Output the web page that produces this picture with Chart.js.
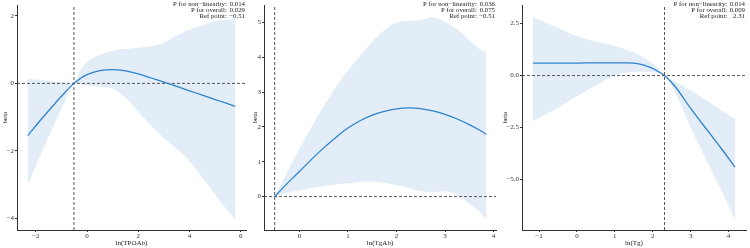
<!DOCTYPE html>
<html>
<head>
<meta charset="utf-8">
<script src="https://cdn.jsdelivr.net/npm/chart.js@4.4.0/dist/chart.umd.min.js"></script>
<style>
  body { margin: 0; background: #fff; }
  #wrap { position: relative; width: 750px; height: 248px; }
  .panel { position: absolute; top: 0; width: 250px; height: 248px; }
</style>
</head>
<body>
<div id="wrap">
  <div class="panel" style="left:0"><canvas id="c1" width="250" height="248"></canvas></div>
  <div class="panel" style="left:250px"><canvas id="c2" width="250" height="248"></canvas></div>
  <div class="panel" style="left:500px"><canvas id="c3" width="250" height="248"></canvas></div>
</div>
<script>
// panel 1: ln(TPOAb)
var x1   = [-2.31, -1.8, -1.3, -0.9, -0.51, -0.25, 0, 0.5, 1, 1.5, 2, 2.5, 3, 3.5, 4, 4.5, 5, 5.4, 5.78];
var est1 = [-1.55, -1.08, -0.64, -0.3, 0, 0.15, 0.26, 0.38, 0.41, 0.37, 0.28, 0.16, 0.04, -0.09, -0.22, -0.35, -0.48, -0.58, -0.68];
var up1  = [0.14, 0.1, 0.05, 0.03, 0, 0.4, 0.63, 0.85, 0.97, 1.02, 1.06, 1.1, 1.2, 1.42, 1.6, 1.72, 1.85, 1.88, 1.9];
var lo1  = [-3.0, -2.1, -1.25, -0.6, 0, -0.04, -0.06, -0.1, -0.15, -0.42, -0.85, -1.25, -1.62, -1.95, -2.3, -2.8, -3.3, -3.7, -4.06];
var xTicks1 = [-2, 0, 2, 4, 6];
var yTicks1 = [-4, -2, 0, 2];
var stats1 = [["P for non\u2212linearity:", "0.014"], ["P for overall:", "0.029"], ["Ref point:", "\u22120.51"]];

// panel 2: ln(TgAb)
var x2   = [-0.51, -0.25, 0, 0.25, 0.5, 0.75, 1, 1.25, 1.5, 1.75, 2, 2.25, 2.5, 2.75, 3, 3.25, 3.5, 3.7, 3.85];
var est2 = [0, 0.38, 0.72, 1.07, 1.4, 1.7, 1.97, 2.18, 2.34, 2.45, 2.52, 2.55, 2.53, 2.46, 2.36, 2.23, 2.07, 1.92, 1.79];
var up2  = [0, 0.7, 1.38, 2.0, 2.6, 3.15, 3.62, 4.05, 4.45, 4.78, 5.0, 5.05, 5.07, 5.15, 5.02, 4.8, 4.5, 4.25, 4.15];
var lo2  = [0, 0.1, 0.18, 0.25, 0.3, 0.35, 0.38, 0.42, 0.43, 0.4, 0.33, 0.25, 0.15, 0.13, 0.15, 0.05, -0.2, -0.42, -0.65];
var xTicks2 = [0, 1, 2, 3, 4];
var yTicks2 = [0, 1, 2, 3, 4, 5];
var stats2 = [["P for non\u2212linearity:", "0.036"], ["P for overall:", "0.075"], ["Ref point:", "\u22120.51"]];

// panel 3: ln(Tg)
var x3   = [-1.16, -0.5, 0, 0.5, 1, 1.3, 1.6, 1.9, 2.1, 2.31, 2.6, 3, 3.5, 3.8, 4.17];
var est3 = [0.6, 0.6, 0.6, 0.61, 0.61, 0.61, 0.57, 0.42, 0.24, 0, -0.55, -1.58, -2.77, -3.48, -4.4];
var up3  = [2.8, 2.3, 1.9, 1.62, 1.42, 1.24, 1.02, 0.7, 0.42, 0, -0.3, -0.72, -1.3, -1.65, -2.07];
var lo3  = [-2.2, -1.55, -1.0, -0.47, 0.02, 0.15, 0.18, 0.17, 0.13, 0, -0.85, -2.49, -4.36, -5.48, -6.92];
var xTicks3 = [-1, 0, 1, 2, 3, 4];
var yTicks3 = [-5, -2.5, 0, 2.5];
var stats3 = [["P for non\u2212linearity:", "0.014"], ["P for overall:", "0.009"], ["Ref point:", "2.31"]];

var SERIF = '"Liberation Serif", "DejaVu Serif", serif';
var LINE_COLOR = '#2f82cc';
var FILL_COLOR = '#e2edf8';
var DASH_COLOR = '#444444';
var FONT_SIZE = 7;

function pts(xs, ys) {
  return xs.map(function (x, i) { return { x: x, y: ys[i] }; });
}

function fmt(v, dec) {
  var s = Math.abs(v).toFixed(dec);
  return (v < 0 ? '\u2212' : '') + s;
}

// stats text in the top right corner
var statsPlugin = {
  id: 'stats',
  afterDraw: function (chart) {
    var lines = chart.options.plugins.stats.lines;
    var ctx = chart.ctx;
    var right = chart.chartArea.right - 1;
    ctx.save();
    ctx.font = '6.8px ' + SERIF;
    ctx.fillStyle = '#222';
    ctx.textBaseline = 'middle';
    ctx.textAlign = 'right';
    var vw = 0;
    lines.forEach(function (l) { vw = Math.max(vw, ctx.measureText(l[1]).width); });
    lines.forEach(function (l, i) {
      var y = 4 + i * 6.1;
      ctx.fillText(l[0], right - vw - 2.5, y);
      ctx.fillText(l[1], right, y);
    });
    ctx.restore();
  }
};

function makeChart(id, opt) {
  var ctx = document.getElementById(id).getContext('2d');
  var datasets = [
    {
      data: pts(opt.x, opt.est), borderColor: LINE_COLOR, borderWidth: 1.3,
      pointRadius: 0, fill: false, tension: 0.35, order: 0
    },
    {
      data: [{ x: opt.xMin, y: 0 }, { x: opt.xMax, y: 0 }], borderColor: DASH_COLOR,
      borderWidth: 0.9, borderDash: [3, 2], pointRadius: 0, fill: false, order: 1
    },
    {
      data: [{ x: opt.ref, y: opt.yMin }, { x: opt.ref, y: opt.yMax }], borderColor: DASH_COLOR,
      borderWidth: 0.9, borderDash: [3, 2], pointRadius: 0, fill: false, order: 1
    },
    {
      data: pts(opt.x, opt.up), borderWidth: 0, borderColor: 'rgba(0,0,0,0)',
      backgroundColor: FILL_COLOR, pointRadius: 0, fill: '+1',
      tension: 0.3, order: 3
    },
    {
      data: pts(opt.x, opt.lo), borderWidth: 0, borderColor: 'rgba(0,0,0,0)',
      pointRadius: 0, fill: false, tension: 0.3, order: 3
    }
  ];

  return new Chart(ctx, {
    type: 'line',
    data: { datasets: datasets },
    options: {
      responsive: false,
      animation: false,
      layout: { padding: { top: 0, right: 4, left: 0, bottom: 0 } },
      plugins: {
        legend: { display: false },
        tooltip: { enabled: false },
        stats: { lines: opt.stats }
      },
      scales: {
        x: {
          type: 'linear', min: opt.xMin, max: opt.xMax,
          afterBuildTicks: function (s) { s.ticks = opt.xTicks.map(function (v) { return { value: v }; }); },
          afterFit: function (s) { s.height = 18; },
          grid: { drawOnChartArea: false, drawTicks: true, tickLength: 2, color: '#333' },
          border: { display: true, color: '#333', width: 1 },
          ticks: {
            padding: 0, font: { family: SERIF, size: FONT_SIZE }, color: '#333', maxRotation: 0,
            callback: function (v) { return fmt(v, opt.xDec); }
          },
          title: {
            display: true, text: opt.xTitle, color: '#222',
            font: { family: SERIF, size: FONT_SIZE }, padding: { top: 0, bottom: 1 }
          }
        },
        y: {
          type: 'linear', min: opt.yMin, max: opt.yMax,
          afterBuildTicks: function (s) { s.ticks = opt.yTicks.map(function (v) { return { value: v }; }); },
          afterFit: function (s) { s.width = opt.yWidth; },
          grid: { drawOnChartArea: false, drawTicks: true, tickLength: 2, color: '#333' },
          border: { display: true, color: '#333', width: 1 },
          ticks: {
            padding: 1, font: { family: SERIF, size: FONT_SIZE }, color: '#333',
            callback: function (v) { return fmt(v, opt.yDec); }
          },
          title: {
            display: true, text: 'beta', color: '#222',
            font: { family: SERIF, size: FONT_SIZE }, padding: { top: 1, bottom: 0 }
          }
        }
      }
    },
    plugins: [statsPlugin]
  });
}

makeChart('c1', {
  x: x1, est: est1, up: up1, lo: lo1, xTicks: xTicks1, yTicks: yTicks1, stats: stats1,
  xMin: -2.73, xMax: 6.2, yMin: -4.35, yMax: 2.32, ref: -0.51, yWidth: 17,
  xDec: 0, yDec: 0, xTitle: 'ln(TPOAb)'
});
makeChart('c2', {
  x: x2, est: est2, up: up2, lo: lo2, xTicks: xTicks2, yTicks: yTicks2, stats: stats2,
  xMin: -0.73, xMax: 4.05, yMin: -0.96, yMax: 5.5, ref: -0.51, yWidth: 14,
  xDec: 0, yDec: 0, xTitle: 'ln(TgAb)'
});
makeChart('c3', {
  x: x3, est: est3, up: up3, lo: lo3, xTicks: xTicks3, yTicks: yTicks3, stats: stats3,
  xMin: -1.45, xMax: 4.46, yMin: -7.42, yMax: 3.38, ref: 2.31, yWidth: 22,
  xDec: 0, yDec: 1, xTitle: 'ln(Tg)'
});
</script>
</body>
</html>
